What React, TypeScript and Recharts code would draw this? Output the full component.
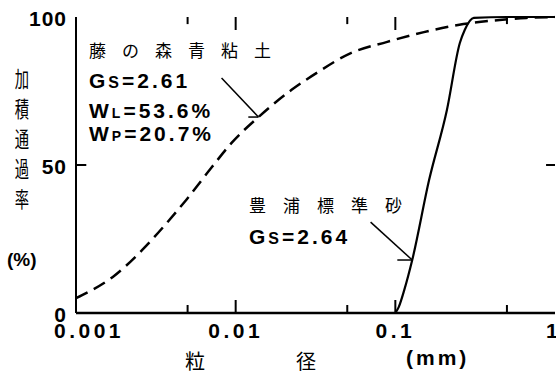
import React from 'react';
import { LineChart, Line, XAxis, YAxis, ReferenceLine } from 'recharts';

// 粒径加積曲線 — values
const clayD = [0.001, 0.0011, 0.0017, 0.0026, 0.0037, 0.0049, 0.0071, 0.0094, 0.0139, 0.0223, 0.0328, 0.0526, 0.089, 0.151, 0.267, 0.45, 0.66, 1];
const clayP = [5, 6.1, 12.2, 21.3, 30.4, 38.2, 49.3, 57.4, 66.2, 75.3, 81.4, 87.8, 91.6, 94.9, 97.6, 99, 99.7, 100];

const sandD = [0.1, 0.105, 0.1138, 0.1276, 0.1627, 0.2104, 0.2535, 0.272, 0.31, 0.5, 1];
const sandP = [0, 2, 7.8, 17.9, 44.9, 68.6, 91.2, 95.6, 99.7, 100, 100];

const xTicks = [0.001, 0.01, 0.1, 1];
const xLabels = ['0.001', '0.01', '0.1', '1'];
const xMajorMarks = [0.01, 0.1];
const xMinorMarks = [0.005, 0.05, 0.5];
const yTicks = [0, 50, 100];
const yLabels = ['0', '50', '100'];

const clay = clayD.map((d, i) => ({ d, p: clayP[i] }));
const sand = sandD.map((d, i) => ({ d, p: sandP[i] }));

const NUM = '"Liberation Sans", Arial, sans-serif';
const JP = '"Noto Sans CJK JP", sans-serif';

function BottomTick({ x, y, payload }: any) {
  const v = payload.value;
  const i = xTicks.indexOf(v);
  let tx = x;
  let anchor = 'middle';
  if (v === 0.001) tx = x + 13;
  if (v === 1) { tx = x - 9; anchor = 'start'; }
  return (
    <text x={tx} y={y + 25} textAnchor={anchor} fontFamily={NUM} fontWeight="bold" fontSize={21} letterSpacing={3.5}>
      {xLabels[i]}
    </text>
  );
}

function LeftTick({ x, y, payload }: any) {
  const i = yTicks.indexOf(payload.value);
  return (
    <text x={x - 9} y={y + 9} textAnchor="end" fontFamily={NUM} fontWeight="bold" fontSize={21} letterSpacing={1}>
      {yLabels[i]}
    </text>
  );
}

const abs = (left: number, top: number, extra: React.CSSProperties = {}): React.CSSProperties => ({
  position: 'absolute', left, top, lineHeight: 1, whiteSpace: 'nowrap', ...extra,
});

const ax = { xAxisId: 'b', yAxisId: 'l' };
const mark = { stroke: '#000', strokeWidth: 2 };

export default function App() {
  const yTitle = ['加', '積', '通', '過', '率'];
  const numText = { fontFamily: NUM, fontWeight: 'bold' as const, fontSize: 21, letterSpacing: 3 };
  return (
    <div style={{ position: 'absolute', left: 0, top: 0, width: 556, height: 377, background: '#fff', overflow: 'hidden' }}>
      <LineChart width={556} height={377} margin={{ top: 17, right: 1, bottom: 0, left: 0 }}>
        <XAxis xAxisId="b" dataKey="d" type="number" scale="log" domain={[0.001, 1]} ticks={xTicks}
          allowDataOverflow height={64} orientation="bottom" tickSize={0} tickMargin={0} tickLine={false}
          tick={<BottomTick />} axisLine={{ stroke: '#000', strokeWidth: 2.5 }} interval={0} />
        <XAxis xAxisId="t" dataKey="d" type="number" scale="log" domain={[0.001, 1]} ticks={xTicks}
          allowDataOverflow height={0} orientation="top" tick={false} tickLine={false}
          axisLine={{ stroke: '#000', strokeWidth: 2.5 }} />
        <YAxis yAxisId="l" type="number" domain={[0, 100]} ticks={yTicks} width={76} orientation="left"
          tickSize={0} tickMargin={0} tickLine={false} tick={<LeftTick />} axisLine={{ stroke: '#000', strokeWidth: 2 }} interval={0} />
        <YAxis yAxisId="r" type="number" domain={[0, 100]} ticks={yTicks} width={0} orientation="right"
          tick={false} tickLine={false} axisLine={{ stroke: '#000', strokeWidth: 2 }} />

        {/* inward tick marks on the frame */}
        {xMajorMarks.map((v) => (
          <ReferenceLine key={'bM' + v} {...ax} segment={[{ x: v, y: 0 }, { x: v, y: 4.4 }]} {...mark} />
        ))}
        {xMinorMarks.map((v) => (
          <ReferenceLine key={'bm' + v} {...ax} segment={[{ x: v, y: 0 }, { x: v, y: 2.7 }]} {...mark} />
        ))}
        {xMajorMarks.map((v) => (
          <ReferenceLine key={'tM' + v} {...ax} segment={[{ x: v, y: 100 }, { x: v, y: 95.6 }]} {...mark} />
        ))}
        {xMinorMarks.map((v) => (
          <ReferenceLine key={'tm' + v} {...ax} segment={[{ x: v, y: 100 }, { x: v, y: 97.6 }]} {...mark} />
        ))}
        <ReferenceLine {...ax} segment={[{ x: 0.001, y: 50 }, { x: 0.00116, y: 50 }]} {...mark} />
        <ReferenceLine {...ax} segment={[{ x: 0.879, y: 50 }, { x: 1, y: 50 }]} {...mark} />

        <Line data={clay} {...ax} dataKey="p" type="monotone" stroke="#000" strokeWidth={2.5}
          strokeDasharray="13 7" dot={false} isAnimationActive={false} />
        <Line data={sand} {...ax} dataKey="p" type="monotone" stroke="#000" strokeWidth={2.2}
          dot={false} isAnimationActive={false} />

        {/* leader lines */}
        <ReferenceLine {...ax} segment={[{ x: 0.00816, y: 79.4 }, { x: 0.0139, y: 66.2 }]} stroke="#000" strokeWidth={1.5} />
        <ReferenceLine {...ax} segment={[{ x: 0.0120, y: 66.2 }, { x: 0.0139, y: 66.2 }]} stroke="#000" strokeWidth={1.5} />
        <ReferenceLine {...ax} segment={[{ x: 0.070, y: 30.7 }, { x: 0.1276, y: 17.9 }]} stroke="#000" strokeWidth={1.5} />
        <ReferenceLine {...ax} segment={[{ x: 0.1029, y: 17.9 }, { x: 0.1276, y: 17.9 }]} stroke="#000" strokeWidth={1.5} />
      </LineChart>

      {/* annotations */}
      <div style={abs(89, 41, { fontFamily: JP, fontSize: 17, letterSpacing: 16 })}>藤の森青粘土</div>
      <div style={abs(89, 70, numText)}>G<span style={{ fontSize: 16 }}>S</span>=2.61</div>
      <div style={abs(89, 100, numText)}>W<span style={{ fontSize: 14 }}>L</span>=53.6%</div>
      <div style={abs(89, 123, numText)}>W<span style={{ fontSize: 14 }}>P</span>=20.7%</div>

      <div style={abs(249, 196, { fontFamily: JP, fontSize: 17, letterSpacing: 17 })}>豊浦標準砂</div>
      <div style={abs(249, 226, numText)}>G<span style={{ fontSize: 16 }}>S</span>=2.64</div>

      {yTitle.map((c, i) => (
        <div key={c} style={abs(11, 66 + i * 30, { fontFamily: JP, fontSize: 22, width: 22, textAlign: 'center', transform: 'scaleX(0.65)' })}>{c}</div>
      ))}
      <div style={abs(7, 250, { fontFamily: NUM, fontWeight: 'bold', fontSize: 19 })}>(%)</div>

      <div style={abs(185, 351, { fontFamily: JP, fontSize: 20 })}>粒</div>
      <div style={abs(296, 351, { fontFamily: JP, fontSize: 20 })}>径</div>
      <div style={abs(406, 347, { fontFamily: NUM, fontWeight: 'bold', fontSize: 21, letterSpacing: 3 })}>(mm)</div>
    </div>
  );
}
